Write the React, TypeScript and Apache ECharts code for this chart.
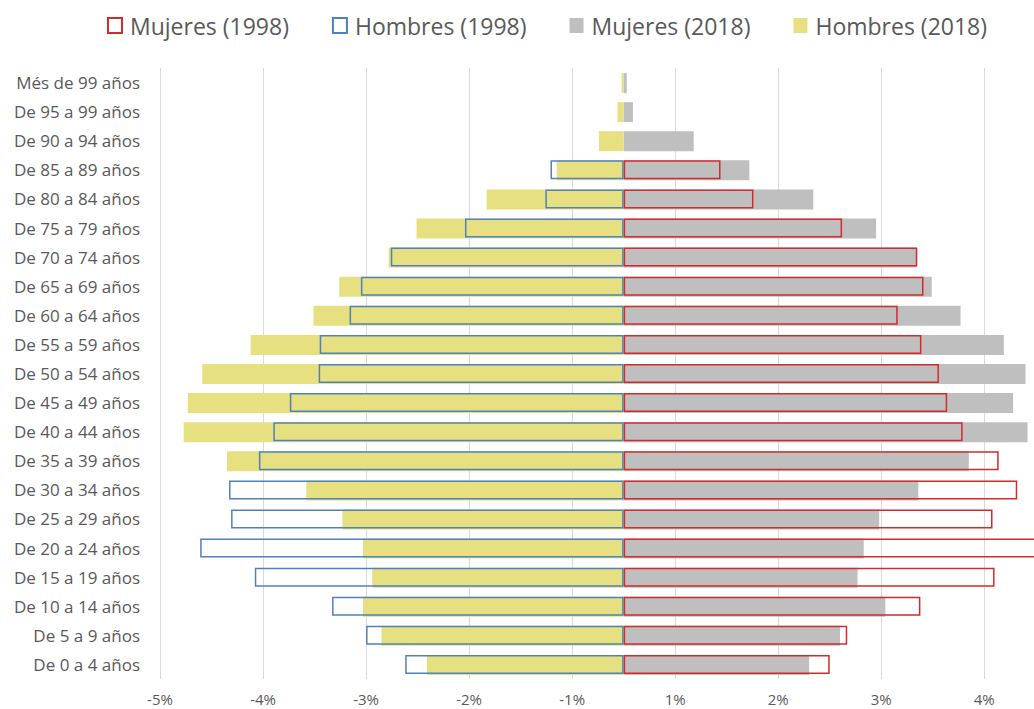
import React, { useEffect, useRef } from "react";
import * as echarts from "echarts";

const categories = [
  "Més de 99 años",
  "De 95 a 99 años",
  "De 90 a 94 años",
  "De 85 a 89 años",
  "De 80 a 84 años",
  "De 75 a 79 años",
  "De 70 a 74 años",
  "De 65 a 69 años",
  "De 60 a 64 años",
  "De 55 a 59 años",
  "De 50 a 54 años",
  "De 45 a 49 años",
  "De 40 a 44 años",
  "De 35 a 39 años",
  "De 30 a 34 años",
  "De 25 a 29 años",
  "De 20 a 24 años",
  "De 15 a 19 años",
  "De 10 a 14 años",
  "De 5 a 9 años",
  "De 0 a 4 años",
];

// values in percent; Hombres are negative (left side)
const mujeres1998 = [null, null, null, 0.94, 1.26, 2.12, 2.85, 2.91, 2.66, 2.89, 3.06, 3.14, 3.29, 3.64, 3.82, 3.58, 4.1, 3.6, 2.88, 2.17, 2.0];
const hombres1998 = [null, null, null, -0.71, -0.76, -1.54, -2.26, -2.55, -2.66, -2.95, -2.96, -3.24, -3.4, -3.54, -3.83, -3.81, -4.11, -3.58, -2.83, -2.5, -2.12];
const mujeres2018 = [0.03, 0.09, 0.68, 1.22, 1.84, 2.45, 2.84, 2.99, 3.27, 3.69, 3.9, 3.78, 3.92, 3.35, 2.86, 2.48, 2.33, 2.27, 2.54, 2.1, 1.8];
const hombres2018 = [-0.02, -0.06, -0.24, -0.65, -1.33, -2.01, -2.28, -2.76, -3.01, -3.62, -4.09, -4.23, -4.27, -3.85, -3.08, -2.73, -2.53, -2.44, -2.53, -2.35, -1.91];

// axis runs from -4.5% to 4.5% with ticks on the half-percent, labelled rounded (as in the source)
const xMin = -4.5;
const xMax = 4.5;
const xStep = 1;

const FONT = "'Open Sans', sans-serif";
const TEXT = "#595959";

export default function App() {
  const ref = useRef<HTMLDivElement>(null);
  useEffect(() => {
    if (!ref.current) return;
    const chart = echarts.init(ref.current, undefined, { renderer: "svg" });
    const nz = (arr: (number | null)[]) => arr.map((v) => (v === null ? "-" : v));
    const roundAway = (v: number) => (v < 0 ? -Math.round(-v) : Math.round(v));
    chart.setOption({
      animation: false,
      textStyle: { fontFamily: FONT },
      legend: {
        data: [
          { name: "Mujeres (1998)", icon: "rect" },
          { name: "Hombres (1998)", icon: "rect" },
          { name: "Mujeres (2018)", icon: "rect" },
          { name: "Hombres (2018)", icon: "rect" },
        ],
        left: 102,
        top: 9,
        itemWidth: 14,
        itemHeight: 15,
        itemGap: 43,
        textStyle: { fontSize: 23, color: TEXT, fontFamily: FONT, padding: [0, 0, 0, 3] },
      },
      grid: { left: 160, right: 72.7, top: 68, bottom: 30 },
      xAxis: {
        type: "value",
        min: xMin,
        max: xMax,
        interval: xStep,
        axisLine: { show: false },
        axisTick: { show: false },
        splitLine: { show: true, lineStyle: { color: "#d9d9d9", width: 1 } },
        axisLabel: {
          color: TEXT,
          fontSize: 15,
          margin: 12,
          fontFamily: FONT,
          formatter: (v: number) => (v >= 4 ? "" : `${roundAway(v)}%`),
        },
      },
      yAxis: {
        type: "category",
        inverse: true,
        data: categories,
        axisTick: { show: false },
        axisLine: { show: false, onZero: false },
        axisLabel: { color: TEXT, fontSize: 17, margin: 20, fontFamily: FONT },
      },
      series: [
        {
          name: "Mujeres (2018)",
          type: "bar",
          barWidth: 20,
          barGap: "-100%",
          data: mujeres2018,
          itemStyle: { color: "#bfbfbf" },
        },
        {
          name: "Hombres (2018)",
          type: "bar",
          barWidth: 20,
          barGap: "-100%",
          data: hombres2018,
          itemStyle: { color: "#e6e081" },
        },
        {
          name: "Mujeres (1998)",
          type: "bar",
          barWidth: 19,
          barGap: "-100%",
          data: nz(mujeres1998),
          itemStyle: { color: "rgba(0,0,0,0)", borderColor: "#d22b2b", borderWidth: 1.5 },
        },
        {
          name: "Hombres (1998)",
          type: "bar",
          barWidth: 19,
          barGap: "-100%",
          data: nz(hombres1998),
          itemStyle: { color: "rgba(0,0,0,0)", borderColor: "#4f81bd", borderWidth: 1.5 },
        },
      ],
    });
    return () => chart.dispose();
  }, []);
  return (
    <div
      style={{
        position: "fixed",
        left: 0,
        top: 0,
        width: 1034,
        height: 709,
        overflow: "hidden",
        background: "#fff",
      }}
    >
      <div ref={ref} style={{ width: 1160, height: 709 }} />
    </div>
  );
}
